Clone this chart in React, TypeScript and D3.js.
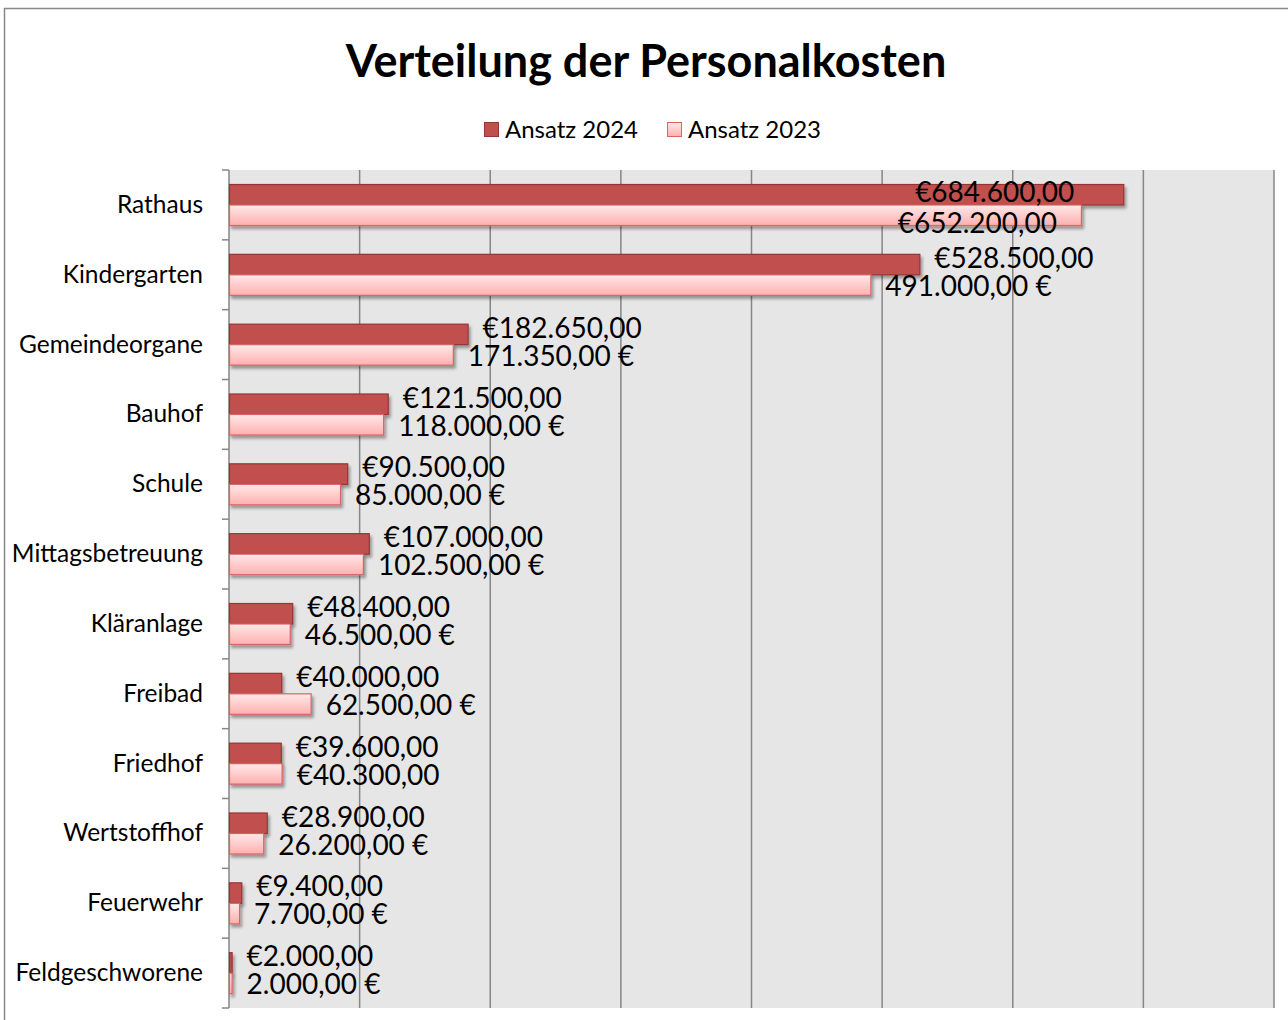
import React from "react";
import * as d3 from "d3";

// Personalkosten je Bereich, gelesen aus dem Bild
const categories = [
  "Rathaus",
  "Kindergarten",
  "Gemeindeorgane",
  "Bauhof",
  "Schule",
  "Mittagsbetreuung",
  "Kläranlage",
  "Freibad",
  "Friedhof",
  "Wertstoffhof",
  "Feuerwehr",
  "Feldgeschworene"
];
const seriesNames = ["Ansatz 2024", "Ansatz 2023"];
const values2024 = [684600, 528500, 182650, 121500, 90500, 107000, 48400, 40000, 39600, 28900, 9400, 2000];
const values2023 = [652200, 491000, 171350, 118000, 85000, 102500, 46500, 62500, 40300, 26200, 7700, 2000];
// true = Euro-Zeichen hinten ("491.000,00 €"), false = vorne ("€652.200,00")
const euroAfter2024 = [false, false, false, false, false, false, false, false, false, false, false, false];
const euroAfter2023 = [false, true, true, true, true, true, true, true, false, true, true, true];
const gridTicks = [0, 100000, 200000, 300000, 400000, 500000, 600000, 700000, 800000];

const W = 1288;
const H = 1020;
const plot = { left: 229, right: 1274, top: 170, bottom: 1008 };
const FONT = "Lato, 'Open Sans', sans-serif";

const locale = d3.formatLocale({
  decimal: ",",
  thousands: ".",
  grouping: [3],
  currency: ["€", ""]
});
const num = locale.format(",.2f");
const label = (v: number, after: boolean) => (after ? `${num(v)} €` : `€${num(v)}`);

export default function App() {
  const x = d3.scaleLinear().domain([0, 800000]).range([plot.left, plot.right]);
  const y = d3.scaleBand().domain(categories).range([plot.top, plot.bottom]);
  const inner = d3.scaleBand().domain(seriesNames).range([14.5, 55.5]);

  const series = [
    { name: seriesNames[0], values: values2024, after: euroAfter2024, fill: "#C0504D", stroke: "#943634" },
    { name: seriesNames[1], values: values2023, after: euroAfter2023, fill: "url(#pinkGrad)", stroke: "#D86565" }
  ];

  // grobe Breite einer Beschriftung (28px)
  const labelW = (s: string) => s.length * 14.7;

  return (
    <svg
      width={W}
      height={H}
      style={{ position: "absolute", left: 0, top: 0, background: "#fff" }}
      fontFamily={FONT}
    >
      <defs>
        <linearGradient id="pinkGrad" x1="0" y1="0" x2="0" y2="1">
          <stop offset="0" stopColor="#FFE9E9" />
          <stop offset="1" stopColor="#FFAFAF" />
        </linearGradient>
        <filter id="shadow" x="-5%" y="-30%" width="120%" height="180%">
          <feDropShadow dx="2" dy="3" stdDeviation="1.5" floodColor="#000" floodOpacity="0.35" />
        </filter>
      </defs>

      <rect x={4.5} y={8.5} width={W + 10} height={H + 10} fill="#fff" stroke="#888" strokeWidth={1.5} />

      <text x={646} y={77} textAnchor="middle" fontSize={45} fontWeight="bold" fill="#000">
        Verteilung der Personalkosten
      </text>

      {/* Legende */}
      <g>
        <rect x={484.5} y={122.5} width={14} height={14} fill="#C0504D" stroke="#943634" />
        <text x={505} y={138} fontSize={24} fill="#000">{seriesNames[0]}</text>
        <rect x={667.5} y={122.5} width={14} height={14} fill="url(#pinkGrad)" stroke="#D86565" />
        <text x={688} y={138} fontSize={24} fill="#000">{seriesNames[1]}</text>
      </g>

      {/* Plotfläche */}
      <rect x={plot.left} y={plot.top} width={plot.right - plot.left} height={plot.bottom - plot.top} fill="#E6E6E6" />
      {gridTicks.slice(1).map(t => (
        <line key={t} x1={x(t)} x2={x(t)} y1={plot.top} y2={plot.bottom} stroke="#868686" strokeWidth={1.5} />
      ))}

      {/* Kategorieachse */}
      <line x1={plot.left} x2={plot.left} y1={plot.top} y2={plot.bottom} stroke="#868686" strokeWidth={1.5} />
      {categories.map(c => (
        <line key={c} x1={plot.left - 7} x2={plot.left} y1={y(c)} y2={y(c)} stroke="#868686" strokeWidth={1.5} />
      ))}
      <line x1={plot.left - 7} x2={plot.left} y1={plot.bottom} y2={plot.bottom} stroke="#868686" strokeWidth={1.5} />
      {categories.map(c => (
        <text key={c} x={203} y={(y(c) as number) + y.bandwidth() / 2 + 8} textAnchor="end" fontSize={24.5} fill="#000">
          {c}
        </text>
      ))}

      {/* Balken */}
      {series.map(s => (
        <g key={s.name} filter="url(#shadow)">
          {categories.map((c, i) => (
            <rect
              key={c}
              x={x(0) + 0.5}
              y={(y(c) as number) + (inner(s.name) as number)}
              width={Math.max(x(s.values[i]) - x(0), 1)}
              height={inner.bandwidth()}
              fill={s.fill}
              stroke={s.stroke}
              strokeWidth={1.2}
            />
          ))}
        </g>
      ))}

      {/* Datenbeschriftungen */}
      {series.map((s, si) =>
        categories.map((c, i) => {
          const txt = label(s.values[i], s.after[i]);
          const end = x(s.values[i]);
          const overflow = end + 15 + labelW(txt) > plot.right - 25;
          const base = (y(c) as number) + (si === 0 ? 28 : 56) + (overflow ? (si === 0 ? 4 : 7) : 0);
          return (
            <text
              key={s.name + c}
              x={overflow ? end - (si === 0 ? 49 : 24) : end + 15}
              y={base}
              textAnchor={overflow ? "end" : "start"}
              fontSize={28}
              fill="#000"
            >
              {txt}
            </text>
          );
        })
      )}
    </svg>
  );
}
